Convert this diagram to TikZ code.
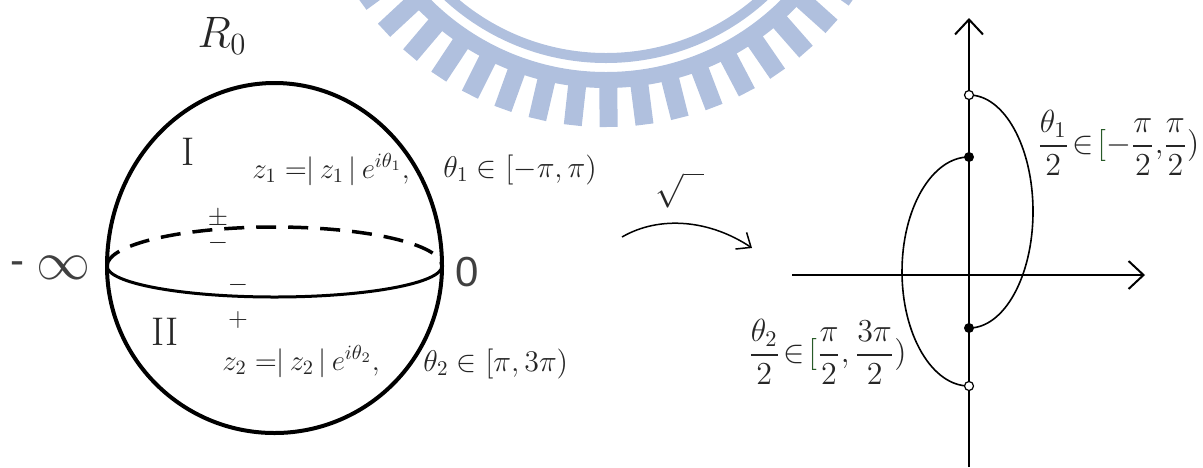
\RequirePackage{fix-cm}
\documentclass[tikz,border=0pt]{standalone}
\usepackage{amsmath}
\usepackage{fontspec}
\newfontfamily\arialfont{Liberation Sans}
\usetikzlibrary{arrows.meta}
\definecolor{logoblue}{RGB}{176,192,222}
\definecolor{bracketgreen}{RGB}{40,90,40}
\newcommand{\gbrack}{\mathopen{{\color{bracketgreen}[}}}

\begin{document}
\begin{tikzpicture}[
    x=0.5pt, y=-0.5pt,
    lbl/.style={inner sep=0pt, text=black!85},
    bigsans/.style={inner sep=0pt, text=black!75, font=\fontsize{21}{25}\arialfont},
    sphereline/.style={line width=2pt},
    axisline/.style={line width=1pt, -{Straight Barb[length=7.5pt, width=14pt]}},
    branch/.style={line width=0.8pt},
    opendot/.style={circle, draw, line width=0.6pt, fill=white, inner sep=0pt, minimum size=4.5pt},
    fulldot/.style={circle, fill=black, inner sep=0pt, minimum size=5pt}
]
\useasboundingbox (0,0) rectangle (1203,467);
% watermark
\begin{scope}
\clip (0,0) rectangle (1203,467);
\begin{scope}[shift={(606,-176)}]
\draw[logoblue, line width=5pt] (0,0) circle (234);
\draw[logoblue, line width=8pt] (0,0) circle (256);
\foreach \k in {-10,...,10}
  \draw[logoblue, line width=9pt] (89.5+6.8*\k:262) -- (89.5+6.8*\k:303);
\end{scope}
\end{scope}
% sphere R_0
\coordinate (west) at (107,266);
\coordinate (east) at (442,266);
\draw[sphereline] (west) arc[start angle=180, end angle=360, x radius=167.5, y radius=183];
\draw[sphereline] (west) arc[start angle=180, end angle=0, x radius=167.5, y radius=167];
\draw[line width=1.5pt] (west) arc[start angle=180, end angle=0, x radius=167.5, y radius=31];
\draw[line width=1.75pt, dash pattern=on 10pt off 6pt] (west) arc[start angle=180, end angle=360, x radius=167.5, y radius=39];
\node[lbl, font=\fontsize{22}{26}\selectfont] (rzero) at (222,36) {$R_0$};
\node[lbl, font=\fontsize{20}{24}\selectfont] (sheetone) at (188,152) {I};
\node[lbl, font=\fontsize{20}{24}\selectfont] (sheettwo) at (165,332) {II};
\node[bigsans, anchor=east] (minf) at (25,268) {-};
\node[bigsans, font=\fontsize{27}{30}\selectfont] (inf) at (63,268) {$\infty$};
\node[bigsans] (zero) at (467,272) {0};
\node[lbl, font=\fontsize{13}{15}\selectfont] (pmsign) at (218,219) {$\pm$};
\node[lbl, font=\fontsize{13}{15}\selectfont] (mtop) at (218,243) {$-$};
\node[lbl, font=\fontsize{13}{15}\selectfont] (mbot) at (238,285) {$-$};
\node[lbl, font=\fontsize{13}{15}\selectfont] (pbot) at (238,320) {$+$};
\node[lbl, anchor=base west, font=\fontsize{14.5}{17}\selectfont] (zone) at (252,178) {$z_1 =\mkern-5mu|\,z_1\,|\,e^{i\theta_1},$};
\node[lbl, anchor=base west, font=\fontsize{15}{18}\selectfont] (thone) at (443,177) {$\theta_1\in[-\pi,\pi)$};
\node[lbl, anchor=base west, font=\fontsize{14.5}{17}\selectfont] (ztwo) at (222,370) {$z_2 =\mkern-5mu|\,z_2\,|\,e^{i\theta_2},$};
\node[lbl, anchor=base west, font=\fontsize{15}{18}\selectfont] (thtwo) at (423,371) {$\theta_2\in[\pi,3\pi)$};
% square root map
\coordinate (mapfrom) at (622,237);
\coordinate (mapto) at (752,248);
\draw[line width=0.75pt, -{Straight Barb[length=6pt, width=10pt]}] (mapfrom) .. controls (660,215) and (710,220) .. (mapto);
\node[lbl, font=\fontsize{17}{19}\selectfont] (sqrtsign) at (680,190) {$\sqrt{\phantom{n}}$};
% image plane
\coordinate (yaxbot) at (969,467);
\coordinate (yaxtop) at (969,18);
\coordinate (xaxleft) at (792,275);
\coordinate (xaxright) at (1145,275);
\draw[axisline] (yaxbot) -- (yaxtop);
\draw[axisline] (xaxleft) -- (xaxright);
\coordinate (upopen) at (969,95);
\coordinate (upfull) at (969,157);
\coordinate (lowfull) at (969,328);
\coordinate (lowopen) at (969,386);
\draw[branch] (upopen) arc[start angle=270, end angle=450, x radius=64, y radius=116.5];
\draw[branch] (upfull) arc[start angle=270, end angle=90, x radius=67, y radius=114.5];
\node[opendot] (uo) at (upopen) {};
\node[fulldot] (uf) at (upfull) {};
\node[fulldot] (lf) at (lowfull) {};
\node[opendot] (lo) at (lowopen) {};
\node[lbl, anchor=west, font=\fontsize{16}{19}\selectfont] (halfone) at (1037,143) {$\dfrac{\theta_1}{2}\!\in\!\gbrack-\dfrac{\pi}{2},\!\dfrac{\pi}{2})$};
\node[lbl, anchor=west, font=\fontsize{16}{19}\selectfont] (halftwo) at (748,352) {$\dfrac{\theta_2}{2}\!\in\!\gbrack\dfrac{\pi}{2},\dfrac{3\pi}{2})$};
\end{tikzpicture}
\end{document}
